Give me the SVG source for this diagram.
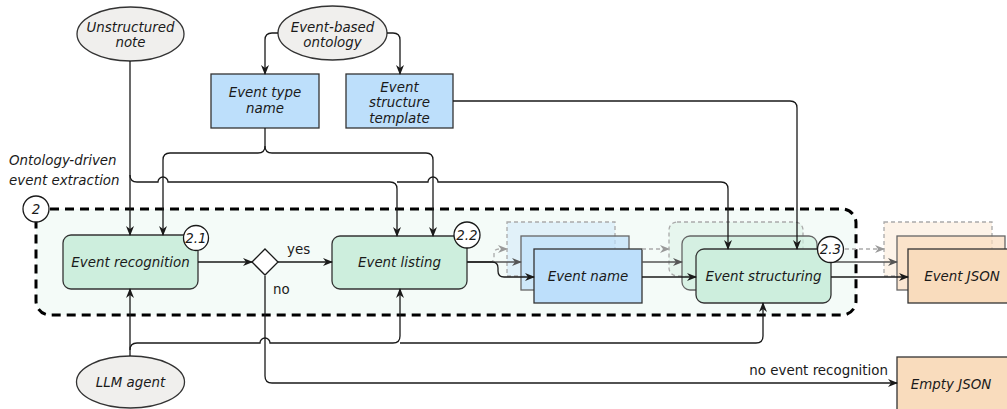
<svg xmlns="http://www.w3.org/2000/svg" width="1007" height="409" viewBox="0 0 1007 409">
  <defs>
    <style>
      text { font-family: "DejaVu Sans", Verdana, sans-serif; font-size: 13.4px; fill: #1a1a1a; }
      .it { font-style: italic; }
      .c { text-anchor: middle; }
      .term { fill: #f0efed; stroke: #333; stroke-width: 1.3; }
      .blue { fill: #bddffb; stroke: #333; stroke-width: 1.3; }
      .blue2 { fill: #bddffb; fill-opacity: 0.7; stroke: #666; stroke-width: 1.3; }
      .blue3 { fill: #bddffb; fill-opacity: 0.35; stroke: #aaa; stroke-width: 1.3; stroke-dasharray: 4 3; }
      .green { fill: #cdeedd; stroke: #333; stroke-width: 1.3; }
      .green2 { fill: #cdeedd; fill-opacity: 0.7; stroke: #666; stroke-width: 1.3; }
      .green3 { fill: #cdeedd; fill-opacity: 0.35; stroke: #aaa; stroke-width: 1.3; stroke-dasharray: 4 3; }
      .orange { fill: #f9dcbd; stroke: #333; stroke-width: 1.3; }
      .orange2 { fill: #f9dcbd; fill-opacity: 0.7; stroke: #666; stroke-width: 1.3; }
      .orange3 { fill: #f9dcbd; fill-opacity: 0.35; stroke: #aaa; stroke-width: 1.3; stroke-dasharray: 4 3; }
      .badge { fill: #fff; stroke: #1a1a1a; stroke-width: 1.3; }
      .edge { fill: none; stroke: #1a1a1a; stroke-width: 1.3; }
      .edge2 { fill: none; stroke: #555; stroke-width: 1.3; }
      .edge3 { fill: none; stroke: #aaa; stroke-width: 1.3; stroke-dasharray: 4 3; }
    </style>
    <marker id="arr" viewBox="0 0 10 10" refX="9" refY="5" markerWidth="10" markerHeight="10" markerUnits="userSpaceOnUse" orient="auto">
      <path d="M0,1 L10,5 L0,9 L3,5 z" fill="#1a1a1a"/>
    </marker>
    <marker id="arr2" viewBox="0 0 10 10" refX="9" refY="5" markerWidth="10" markerHeight="10" markerUnits="userSpaceOnUse" orient="auto">
      <path d="M0,1 L10,5 L0,9 L3,5 z" fill="#555"/>
    </marker>
    <marker id="arr3" viewBox="0 0 10 10" refX="9" refY="5" markerWidth="10" markerHeight="10" markerUnits="userSpaceOnUse" orient="auto">
      <path d="M0,1 L10,5 L0,9 L3,5 z" fill="#999"/>
    </marker>
  </defs>

  <rect width="1007" height="409" fill="#fff"/>

  <!-- extraction stage container -->
  <g id="stage">
    <rect x="36" y="209" width="820" height="106" rx="14" fill="#f4fbf8" stroke="#000" stroke-width="3" stroke-dasharray="9 6"/>
    <text class="it" x="9" y="165">Ontology-driven</text>
    <text class="it" x="9" y="185">event extraction</text>
  </g>

  <g id="unstructured-note">
    <ellipse class="term" cx="130.5" cy="34" rx="53.5" ry="27"/>
    <text class="it c" x="130.5" y="31.5">Unstructured</text>
    <text class="it c" x="130.5" y="47">note</text>
  </g>

  <g id="event-ontology">
    <ellipse class="term" cx="332.5" cy="33" rx="54.5" ry="27"/>
    <text class="it c" x="332.5" y="31.5">Event-based</text>
    <text class="it c" x="332.5" y="47">ontology</text>
  </g>

  <g id="event-type-name">
    <rect class="blue" x="211" y="74" width="108" height="54"/>
    <text class="it c" x="265" y="97">Event type</text>
    <text class="it c" x="265" y="113">name</text>
  </g>

  <g id="event-structure-template">
    <rect class="blue" x="346" y="74" width="107" height="54"/>
    <text class="it c" x="399.5" y="91.5">Event</text>
    <text class="it c" x="399.5" y="107">structure</text>
    <text class="it c" x="399.5" y="122.5">template</text>
  </g>

  <g id="llm-agent">
    <ellipse class="term" cx="130.5" cy="382" rx="54" ry="26"/>
    <text class="it c" x="130.5" y="386.5">LLM agent</text>
  </g>

  <g id="event-recognition">
    <rect class="green" x="63" y="235" width="135" height="54" rx="8"/>
    <text class="it c" x="130.5" y="266.5">Event recognition</text>
  </g>

  <g id="decision">
    <polygon points="265,249 278,262 265,275 252,262" fill="#fff" stroke="#1a1a1a" stroke-width="1.3"/>
  </g>

  <g id="event-listing">
    <rect class="green" x="332" y="236" width="135" height="53" rx="8"/>
    <text class="it c" x="399.5" y="266.5">Event listing</text>
  </g>

  <g id="event-name">
    <rect class="blue3" x="507" y="222" width="108" height="54"/>
    <rect class="blue2" x="521" y="236" width="108" height="54"/>
    <rect class="blue" x="534" y="249" width="108" height="54"/>
    <text class="it c" x="588" y="280.5">Event name</text>
  </g>

  <g id="event-structuring">
    <rect class="green3" x="669" y="222" width="134" height="54" rx="8"/>
    <rect class="green2" x="682" y="236" width="135" height="54" rx="8"/>
    <rect class="green" x="696" y="249" width="135" height="54" rx="8"/>
    <text class="it c" x="763.5" y="280.5">Event structuring</text>
  </g>

  <g id="event-json">
    <rect class="orange3" x="884" y="222" width="108" height="54"/>
    <rect class="orange2" x="897" y="236" width="108" height="54"/>
    <rect class="orange" x="908" y="249" width="108" height="54"/>
    <text class="it c" x="962" y="280.5">Event JSON</text>
  </g>

  <g id="empty-json">
    <rect class="orange" x="897" y="357" width="112" height="54"/>
    <text class="it c" x="951" y="389">Empty JSON</text>
  </g>

  <!-- connectors -->
  <g id="connectors">
    <!-- ontology to the two templates -->
    <path class="edge" d="M278,33 H272 Q265,33 265,40 V74" marker-end="url(#arr)"/>
    <path class="edge" d="M387,33 H393 Q400,33 400,40 V74" marker-end="url(#arr)"/>
    <!-- event type name branches -->
    <path class="edge" d="M265,128 V146 Q265,153 258,153 H170 Q163,153 163,160 V235" marker-end="url(#arr)"/>
    <path class="edge" d="M265,146 Q265,153 272,153 H426 Q433,153 433,160 V236" marker-end="url(#arr)"/>
    <!-- unstructured note -->
    <path class="edge" d="M130,61 V235" marker-end="url(#arr)"/>
    <path class="edge" d="M130,175 Q130,182 137,182 H158 A5,5 0 0 1 168,182 H390 Q397,182 397,189 V236" marker-end="url(#arr)"/>
    <path class="edge" d="M397,182 H428 A5,5 0 0 1 438,182 H721 Q728,182 728,189 V249" marker-end="url(#arr)"/>
    <!-- structure template -->
    <path class="edge" d="M453,101 H790 Q797,101 797,108 V249" marker-end="url(#arr)"/>
    <!-- recognition, decision, listing -->
    <path class="edge" d="M198,262 H252" marker-end="url(#arr)"/>
    <path class="edge" d="M278,262 H332" marker-end="url(#arr)"/>
    <!-- listing to event names -->
    <path class="edge3" d="M490,262 Q494,262 494,257 V254 Q494,249 499,249 H507" marker-end="url(#arr3)"/>
    <path class="edge2" d="M467,262 H521" marker-end="url(#arr2)"/>
    <path class="edge" d="M467,262 H492 Q498,262 498,268 V271 Q498,277 504,277 H534" marker-end="url(#arr)"/>
    <!-- event names to structuring -->
    <path class="edge3" d="M642,249 H669" marker-end="url(#arr3)"/>
    <path class="edge2" d="M642,262 H682" marker-end="url(#arr2)"/>
    <path class="edge" d="M642,277 H696" marker-end="url(#arr)"/>
    <!-- structuring to JSON -->
    <path class="edge3" d="M831,249 H884" marker-end="url(#arr3)"/>
    <path class="edge2" d="M831,262 H897" marker-end="url(#arr2)"/>
    <path class="edge" d="M831,277 H908" marker-end="url(#arr)"/>
    <!-- LLM agent -->
    <path class="edge" d="M130,356 V289" marker-end="url(#arr)"/>
    <path class="edge" d="M130,350 Q130,343 137,343 H260 A5,5 0 0 1 270,343 H393 Q400,343 400,336 V289" marker-end="url(#arr)"/>
    <path class="edge" d="M400,343 H756 Q763,343 763,336 V303" marker-end="url(#arr)"/>
    <!-- no recognition -->
    <path class="edge" d="M265,276 V376 Q265,383 272,383 H897" marker-end="url(#arr)"/>
    <text x="287" y="254">yes</text>
    <text x="273" y="294">no</text>
    <text x="888" y="375" text-anchor="end">no event recognition</text>
  </g>

  <!-- step badges -->
  <g id="badge-2">
    <circle class="badge" cx="36" cy="209" r="13"/>
    <text class="it c" x="36" y="213.5">2</text>
  </g>
  <g id="badge-2-1">
    <circle class="badge" cx="196" cy="238" r="12.5"/>
    <text class="it c" x="196" y="242.5">2.1</text>
  </g>
  <g id="badge-2-2">
    <circle class="badge" cx="467" cy="235" r="13"/>
    <text class="it c" x="467" y="239.5">2.2</text>
  </g>
  <g id="badge-2-3">
    <circle class="badge" cx="830.5" cy="249.5" r="13"/>
    <text class="it c" x="830.5" y="254">2.3</text>
  </g>
</svg>
